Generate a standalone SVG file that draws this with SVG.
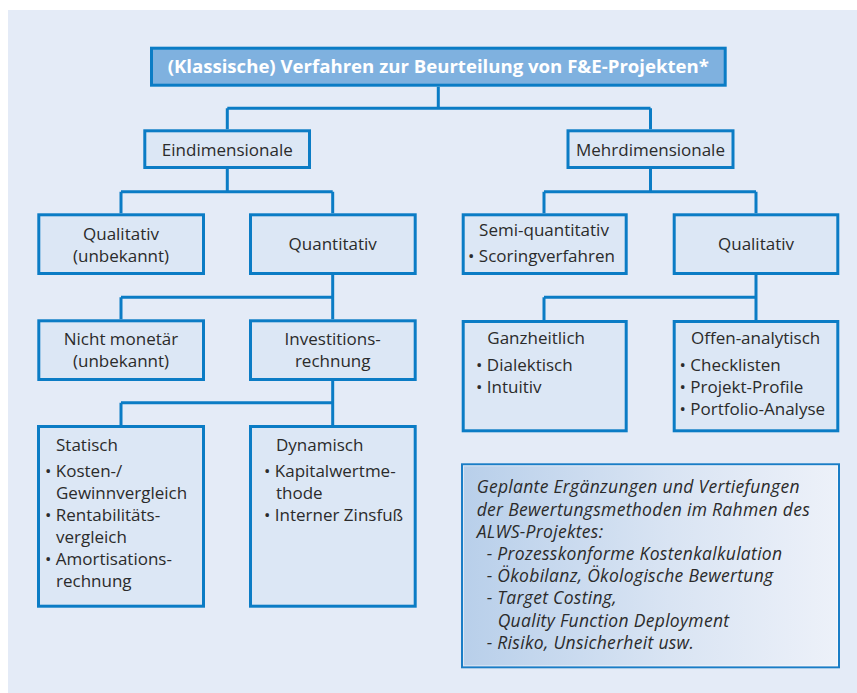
<svg xmlns="http://www.w3.org/2000/svg" width="857" height="693" viewBox="0 0 857 693">
<defs>
<linearGradient id="g" x1="0" y1="0" x2="1" y2="0">
<stop offset="0" stop-color="#b8cfea"/>
<stop offset="0.55" stop-color="#d9e4f3"/>
<stop offset="1" stop-color="#edf1f9"/>
</linearGradient>
<style>
.bx{fill:#dce7f5;stroke:#0b7cc5;stroke-width:3}
.t{font-family:"Open Sans","Lato",sans-serif;font-size:17px;fill:#2b2b2b}
.c{text-anchor:middle}
.ln{fill:none;stroke:#0b7cc5;stroke-width:3}
.it{font-family:"Open Sans","Lato",sans-serif;font-size:17.5px;letter-spacing:0.3px;font-style:italic;fill:#2b2b2b}
</style>
</defs>
<rect x="0" y="0" width="857" height="693" fill="#ffffff"/>
<rect x="8" y="10" width="849" height="683" fill="#e4ebf7"/>

<g id="connectors">
<path class="ln" d="M438.3 86.7V108.3M227.3 108.3H650.5M227.3 108.3V129.3M650.5 108.3V129.3"/>
<path class="ln" d="M227.3 169V191.7M121 191.7H332.7M121 191.7V213.3M332.7 191.7V213.3"/>
<path class="ln" d="M650.5 169V191.7M544 191.7H756M544 191.7V213.3M756 191.7V213.3"/>
<path class="ln" d="M332.7 275V319.3M121 297.3H332.7M121 297.3V319.3"/>
<path class="ln" d="M756 275V320M544 297.3H756M544 297.3V320"/>
<path class="ln" d="M332.7 381V425M121 402.7H332.7M121 402.7V425"/>
</g>

<g id="title">
<rect x="151.5" y="48.2" width="573.7" height="37" fill="#7fb1df" stroke="#0b7cc5" stroke-width="3"/>
<text x="438.3" y="72.8" class="c" font-family="'Open Sans',Lato,sans-serif" font-size="18.6" font-weight="bold" fill="#ffffff">(Klassische) Verfahren zur Beurteilung von F&amp;E-Projekten*</text>
</g>

<g id="eindimensionale">
<rect class="bx" x="144.8" y="130.8" width="164.7" height="36.7"/>
<text class="t c" x="227.3" y="156">Eindimensionale</text>
</g>
<g id="mehrdimensionale">
<rect class="bx" x="568" y="130.8" width="165" height="36.7"/>
<text class="t c" x="650.5" y="156">Mehrdimensionale</text>
</g>

<g id="qualitativ-links">
<rect class="bx" x="38.8" y="214.8" width="164.7" height="58.7"/>
<text class="t c" x="121" y="239.5">Qualitativ</text>
<text class="t c" x="121" y="261.7">(unbekannt)</text>
</g>
<g id="quantitativ">
<rect class="bx" x="250.5" y="214.8" width="164.7" height="58.7"/>
<text class="t c" x="332.7" y="250">Quantitativ</text>
</g>
<g id="semi-quantitativ">
<rect class="bx" x="463.2" y="214.8" width="163" height="58.7"/>
<text class="t c" x="544" y="235.5">Semi-quantitativ</text>
<text class="t" x="468" y="261.7">• Scoringverfahren</text>
</g>
<g id="qualitativ-rechts">
<rect class="bx" x="674.2" y="214.8" width="163.6" height="58.7"/>
<text class="t c" x="756" y="250">Qualitativ</text>
</g>

<g id="nicht-monetaer">
<rect class="bx" x="38.8" y="320.8" width="164.7" height="58.7"/>
<text class="t c" x="121" y="345">Nicht monetär</text>
<text class="t c" x="121" y="367">(unbekannt)</text>
</g>
<g id="investitionsrechnung">
<rect class="bx" x="250.5" y="320.8" width="164.7" height="58.7"/>
<text class="t c" x="332.7" y="345">Investitions-</text>
<text class="t c" x="332.7" y="367">rechnung</text>
</g>
<g id="ganzheitlich">
<rect class="bx" x="463.2" y="321.5" width="163" height="109.3"/>
<text class="t" x="487.3" y="344">Ganzheitlich</text>
<text class="t" x="476" y="370.7">• Dialektisch</text>
<text class="t" x="476" y="393">• Intuitiv</text>
</g>
<g id="offen-analytisch">
<rect class="bx" x="674.2" y="321.5" width="163.6" height="109.3"/>
<text class="t" x="691" y="344">Offen-analytisch</text>
<text class="t" x="679.5" y="370.7">• Checklisten</text>
<text class="t" x="679.5" y="393">• Projekt-Profile</text>
<text class="t" x="679.5" y="415">• Portfolio-Analyse</text>
</g>

<g id="statisch">
<rect class="bx" x="38.5" y="426.5" width="165" height="179.7"/>
<text class="t" x="56" y="450.5">Statisch</text>
<text class="t" x="45" y="477">• Kosten-/</text>
<text class="t" x="56" y="499">Gewinnvergleich</text>
<text class="t" x="45" y="521">• Rentabilitäts-</text>
<text class="t" x="56" y="543">vergleich</text>
<text class="t" x="45" y="565">• Amortisations-</text>
<text class="t" x="56" y="587">rechnung</text>
</g>
<g id="dynamisch">
<rect class="bx" x="250.5" y="426.5" width="164.7" height="179.7"/>
<text class="t" x="276" y="450.5">Dynamisch</text>
<text class="t" x="264" y="477">• Kapitalwertme-</text>
<text class="t" x="276" y="499">thode</text>
<text class="t" x="264" y="521">• Interner Zinsfuß</text>
</g>

<g id="ergaenzungen">
<rect x="462" y="464.3" width="377" height="203" fill="url(#g)" stroke="#1a7dc6" stroke-width="2"/>
<rect x="463.5" y="465.8" width="374" height="200" fill="none" stroke="#ffffff" stroke-opacity="0.5" stroke-width="1"/>
<text class="it" x="476.7" y="493.3">Geplante Ergänzungen und Vertiefungen</text>
<text class="it" x="476.7" y="515.5">der Bewertungsmethoden im Rahmen des</text>
<text class="it" x="476.7" y="537.5">ALWS-Projektes:</text>
<text class="it" x="486.7" y="560">- Prozesskonforme Kostenkalkulation</text>
<text class="it" x="486.7" y="582">- Ökobilanz, Ökologische Bewertung</text>
<text class="it" x="486.7" y="604.3">- Target Costing,</text>
<text class="it" x="497.7" y="626.7">Quality Function Deployment</text>
<text class="it" x="486.7" y="649">- Risiko, Unsicherheit usw.</text>
</g>
</svg>
